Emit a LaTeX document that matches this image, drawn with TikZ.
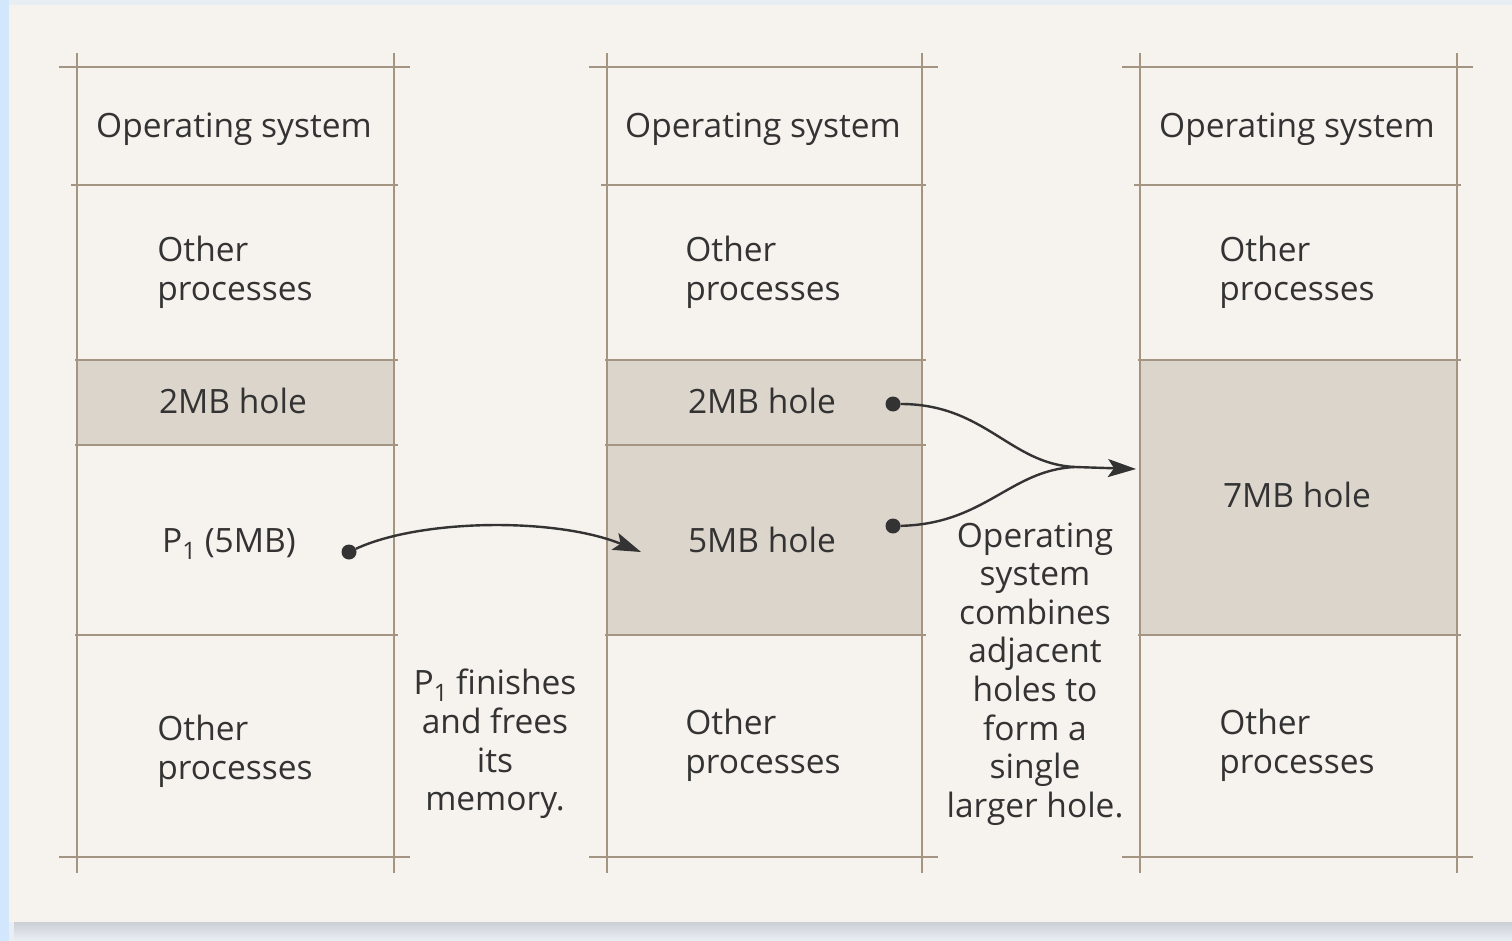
\documentclass[tikz,border=0pt]{standalone}
\usepackage{fontspec}
\setmainfont{Open Sans}
\usetikzlibrary{arrows.meta}
\definecolor{bgblue}{HTML}{E9EEF4}
\definecolor{stripblue}{HTML}{D2E7FB}
\definecolor{paper}{HTML}{F6F2EE}
\definecolor{holefill}{HTML}{DCD5CC}
\definecolor{rulecol}{HTML}{A39582}
\definecolor{ink}{HTML}{333333}
\definecolor{shade}{HTML}{C4C8CE}

\newcommand{\procsub}[1]{\raisebox{-0.35ex}{\fontsize{24}{24}\selectfont #1}}

\tikzset{
  rule/.style={draw=rulecol, line width=2.4pt},
  hole/.style={fill=holefill},
  lbl/.style={text=ink, font=\fontsize{33.5}{38.6}\selectfont, inner sep=0pt},
  twoline/.style={lbl, align=left},
  note/.style={lbl, align=center},
  dot/.style={circle, fill=ink, minimum size=15pt, inner sep=0pt},
  conn/.style={draw=ink, line width=2.4pt, -{Stealth[length=28pt,width=18pt,inset=6pt]}},
  joinline/.style={draw=ink, line width=2.4pt}
}

\begin{document}
\begin{tikzpicture}[x=1pt,y=-1pt]
  % page background and panel
  \useasboundingbox (0,0) rectangle (1512,941);
  \fill[bgblue] (0,0) rectangle (1512,941);
  \fill[stripblue] (0,0) rectangle (9,941);
  \shade[top color=shade, bottom color=bgblue] (14,918) rectangle (1512,940);
  \fill[paper] (9,5) rectangle (1512,922);

  % hole fills
  \fill[hole] (77,360) rectangle (394,445);
  \fill[hole] (607,360) rectangle (922,635);
  \fill[hole] (1140,360) rectangle (1457,635);

  % memory columns
  \foreach \xl/\xr in {77/394, 607/922, 1140/1457}{
    \draw[rule] (\xl-18,67) -- (\xr+16,67);
    \draw[rule] (\xl-18,857) -- (\xr+16,857);
    \draw[rule] (\xl,53) -- (\xl,873);
    \draw[rule] (\xr,53) -- (\xr,873);
    \draw[rule] (\xl-6,185) -- (\xr+4,185);
    \draw[rule] (\xl-2,360) -- (\xr+4,360);
    \draw[rule] (\xl-2,635) -- (\xr+4,635);
  }
  \draw[rule] (75,445) -- (398,445);
  \draw[rule] (605,445) -- (926,445);

  % left column
  \node[lbl] (os1) at (234,129) {Operating system};
  \node[twoline] (op1a) at (235,272) {Other\\processes};
  \node[lbl] (h1) at (233,401) {2MB hole};
  \node[lbl] (p1) at (229,544) {P\procsub{1} (5MB)};
  \node[twoline] (op1b) at (235,751) {Other\\processes};

  % middle column
  \node[lbl] (os2) at (763,129) {Operating system};
  \node[twoline] (op2a) at (763,272) {Other\\processes};
  \node[lbl] (h2) at (762,401) {2MB hole};
  \node[lbl] (h5) at (762,540) {5MB hole};
  \node[twoline] (op2b) at (763,745) {Other\\processes};

  % right column
  \node[lbl] (os3) at (1297,129) {Operating system};
  \node[twoline] (op3a) at (1297,272) {Other\\processes};
  \node[lbl] (h7) at (1297,495) {7MB hole};
  \node[twoline] (op3b) at (1297,745) {Other\\processes};

  % explanatory notes
  \node[note] (n1) at (495,744) {P\procsub{1} finishes\\and frees\\its\\memory.};
  \node[note] (n2) at (1035,674) {Operating\\system\\combines\\adjacent\\holes to\\form a\\single\\larger hole.};

  % connectors
  \node[dot] (d1) at (349,552) {};
  \coordinate (t1) at (641,552);
  \draw[conn] (d1) .. controls (420,519) and (555,517) .. (t1);

  \node[dot] (d2) at (893,404) {};
  \node[dot] (d3) at (893,526) {};
  \coordinate (m) at (1075,467);
  \coordinate (t2) at (1136,469);
  \draw[joinline] (d2) .. controls (985,404) and (1010,464) .. (m);
  \draw[joinline] (d3) .. controls (985,524) and (1010,470) .. (m);
  \draw[conn] (m) -- (t2);
\end{tikzpicture}
\end{document}
